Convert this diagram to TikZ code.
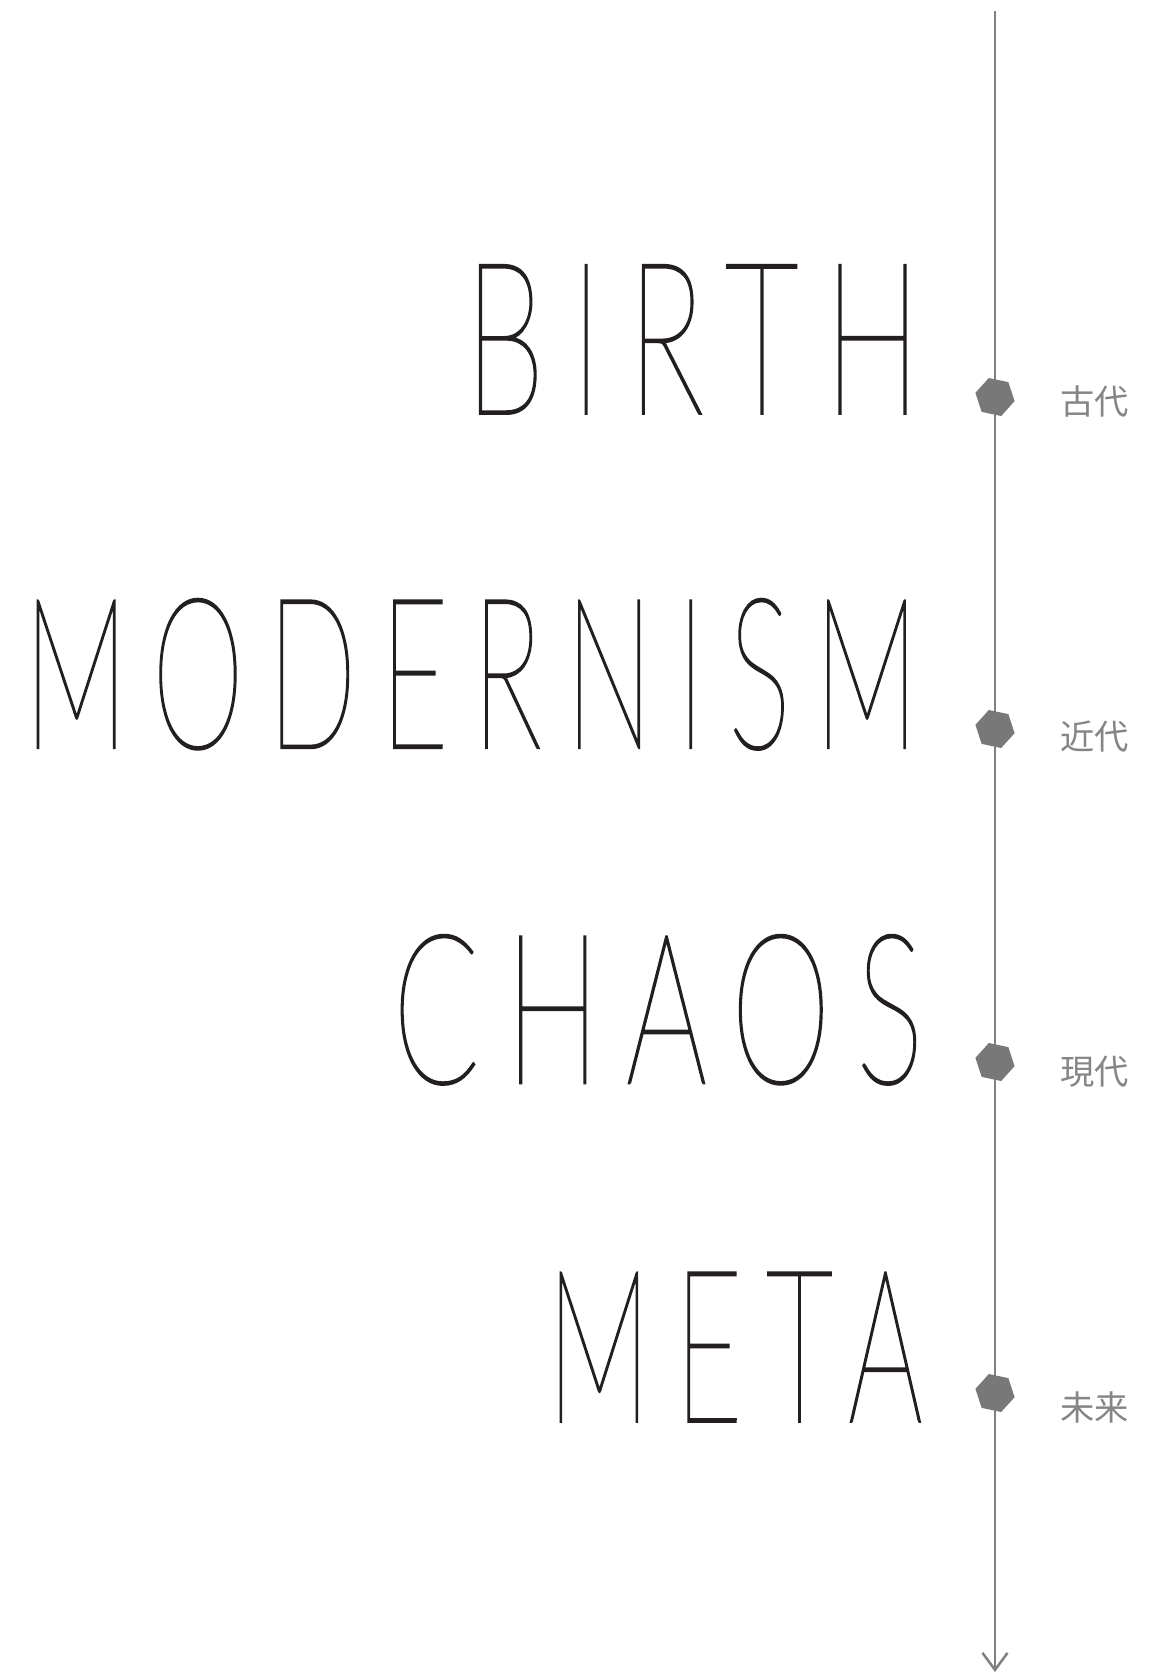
\documentclass[tikz,border=0pt]{standalone}
\usepackage{fontspec}
\usepackage{tikz}
\usetikzlibrary{positioning,arrows.meta,shapes.geometric}
\usepackage{xcolor}
\IfFontExistsTF{Lato Thin}
  {\newfontfamily\thinfont{Lato Thin}[LetterSpace=20,FakeBold=1.2]}
  {\IfFontExistsTF{Lato Hairline}
    {\newfontfamily\thinfont{Lato Hairline}[LetterSpace=20,FakeBold=1.2]}
    {\IfFontExistsTF{DejaVu Sans ExtraLight}
      {\newfontfamily\thinfont{DejaVu Sans ExtraLight}[LetterSpace=20]}
      {\newfontfamily\thinfont{Liberation Sans}[LetterSpace=20]}}}
\newfontfamily\cjkfont{Noto Sans CJK JP}
\definecolor{inkblack}{HTML}{231F20}
\definecolor{axisgray}{HTML}{808080}
\definecolor{dotgray}{HTML}{787878}
\definecolor{labelgray}{HTML}{858585}

\begin{document}
\begin{tikzpicture}[
  x=0.02cm, y=-0.02cm,
  word/.style={anchor=south east, inner sep=0pt, text=inkblack, font=\thinfont\fontsize{60}{60}\selectfont},
  era/.style={regular polygon, regular polygon sides=6, minimum size=0.8cm, inner sep=0pt, fill=dotgray, rotate=-12},
  eralabel/.style={inner sep=0pt, text=labelgray, font=\cjkfont\fontsize{19.5}{22}\selectfont},
  axis/.style={-{Straight Barb[length=0.34cm,width=0.5cm]}, line width=0.05cm, color=axisgray}
]
\useasboundingbox (0,0) rectangle (1160,1674);

\coordinate (top) at (995,11);
\coordinate (bottom) at (995,1672);
\draw[axis] (top) -- (bottom);

\node[word] (birth) at (921,414) {\resizebox{9.12cm}{2.97cm}{BIRTH}};
\node[word] (modern) at (919,750) {\resizebox{17.9cm}{2.98cm}{MODERNISM}};
\node[word] (chaos) at (924,1085) {\resizebox{10.62cm}{2.96cm}{CHAOS}};
\node[word] (meta) at (923,1422) {\resizebox{7.52cm}{2.98cm}{META}};

\node[era] (kodai) at (995,397) {};
\node[era] (kindai) at (995,729) {};
\node[era] (gendai) at (995,1062) {};
\node[era] (mirai) at (995,1393) {};

\node[eralabel, right=0.9cm of kodai] (kodailbl) {古代};
\node[eralabel, right=0.9cm of kindai, yshift=-0.06cm] (kindailbl) {近代};
\node[eralabel, right=0.9cm of gendai, yshift=-0.1cm] (gendailbl) {現代};
\node[eralabel, right=0.9cm of mirai, yshift=-0.2cm] (murailbl) {未来};
\end{tikzpicture}
\end{document}
